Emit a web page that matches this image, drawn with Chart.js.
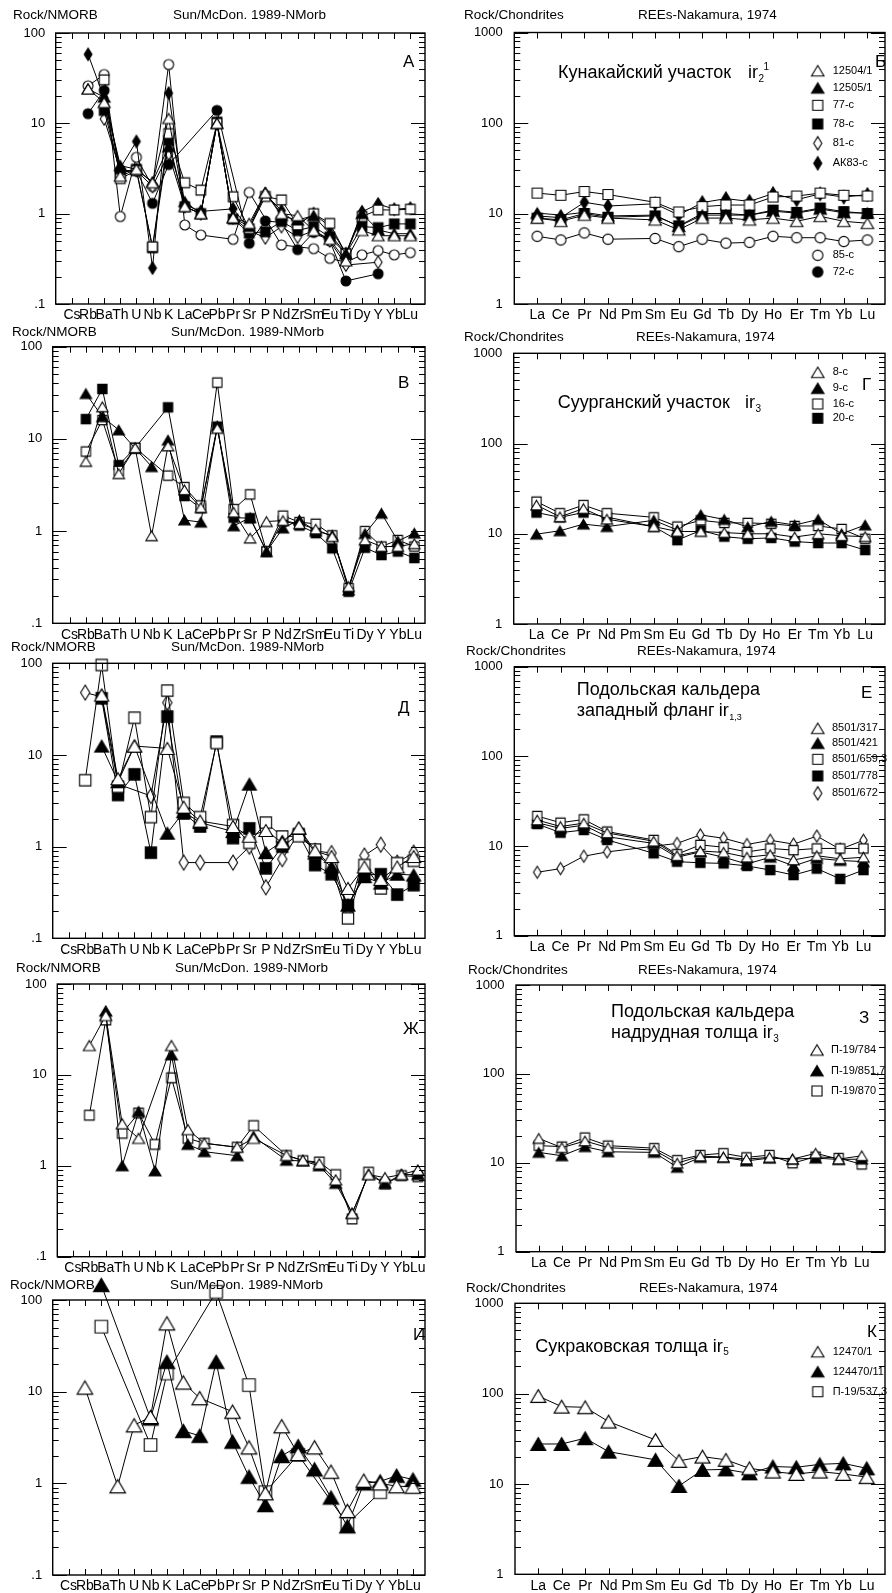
<!DOCTYPE html>
<html>
<head>
<meta charset="utf-8">
<title>Spider diagrams</title>
<script src="https://cdn.jsdelivr.net/npm/chart.js@4.4.0/dist/chart.umd.min.js"></script>
<style>
html, body { margin: 0; padding: 0; background: #fff; width: 892px; height: 1593px; overflow: hidden; }
#sheet { position: relative; width: 892px; height: 1593px; overflow: hidden; }
#sheet canvas { position: absolute; }
</style>
</head>
<body>
<div id="sheet"></div>
<script>
const N = null;

// element order on the x axes
const nmorbElements = ['Cs', 'Rb', 'Ba', 'Th', 'U', 'Nb', 'K', 'La', 'Ce', 'Pb', 'Pr', 'Sr', 'P', 'Nd', 'Zr', 'Sm', 'Eu', 'Ti', 'Dy', 'Y', 'Yb', 'Lu'];
const reeElements = ['La', 'Ce', 'Pr', 'Nd', 'Pm', 'Sm', 'Eu', 'Gd', 'Tb', 'Dy', 'Ho', 'Er', 'Tm', 'Yb', 'Lu'];

// y tick labels
const nmorbTicks = [0.1, 1, 10, 100];
const nmorbTickLabels = ['.1', '1', '10', '100'];
const reeTicks = [1, 10, 100, 1000];
const reeTickLabels = ['1', '10', '100', '1000'];

// samples per row (legend order) and their marker kinds
const row1Samples = ['12504/1', '12505/1', '77-с', '78-с', '81-с', 'АК83-с', '85-с', '72-с'];
const row1Kinds = ['triO', 'triF', 'sqO', 'sqF', 'diaO', 'diaF', 'cirO', 'cirF'];
const row2Samples = ['8-с', '9-с', '16-с', '20-с'];
const row2Kinds = ['triO', 'triF', 'sqO', 'sqF'];
const row3Samples = ['8501/317', '8501/421', '8501/659,3', '8501/778', '8501/672'];
const row3Kinds = ['triO', 'triF', 'sqO', 'sqF', 'diaO'];
const row4Samples = ['П-19/784', 'П-19/851,7', 'П-19/870'];
const row4Kinds = ['triO', 'triF', 'sqO'];
const row5Samples = ['12470/1', '124470/11', 'П-19/537,3'];
const row5Kinds = ['triO', 'triF', 'sqO'];

// А - Rock/NMORB
const a_12504_1 = [N, 24, 17, 2.6, 3.1, 2.2, 11.3, 1.2, 1.0, 10, 0.9, 0.78, 1.7, 1.0, 0.95, 0.65, 0.52, 0.3, 0.65, 0.57, 0.57, 0.57];
const a_12505_1 = [N, 24, 19.5, 3.4, 3.1, 2.25, 5.5, 1.36, 1.0, 10, 0.9, 0.72, 1.71, 0.95, 0.85, 0.95, 0.6, 0.36, 1.0, 0.66, 0.6, 0.6];
const a_77c = [N, N, 30.3, 2.45, 3.0, 0.43, 7.7, 2.2, 1.82, 10, 1.54, 0.68, 1.55, 1.42, 0.75, 1.0, 0.78, 0.36, 0.93, 1.1, 1.1, 1.12];
const a_78c = [N, N, 13.9, 2.8, 3.1, 0.42, 6.5, 1.19, 1.0, 10.3, 0.87, 0.61, 0.63, 0.82, 0.65, 0.72, 0.55, 0.36, 0.72, 0.7, 0.77, 0.77];
const a_81c = [N, N, 11.2, 3.0, 3.0, 2.0, 4.6, 1.2, 1.0, 10, 0.9, 0.65, 0.54, 0.72, 0.55, 0.65, 0.5, 0.27, N, 0.29, N, N];
const a_AK83c = [N, 58, 19, 3.2, 6.3, 0.25, 21.6, 1.25, 1.06, N, 1.13, 0.68, 1.65, 1.08, 0.75, 1.0, 0.72, 0.36, 1.05, 1.28, 1.12, 1.15];
const a_85c = [N, 26, 34.7, 0.93, 4.2, 2.0, 44.8, 0.75, 0.58, N, 0.52, 1.72, N, 0.45, N, 0.41, 0.32, 0.29, 0.35, 0.39, 0.35, 0.37];
const a_72c = [N, 12.8, 23.1, 2.9, 3.0, 1.3, 3.5, N, N, 13.9, N, 0.47, 0.83, 0.8, 0.4, 0.62, 0.5, 0.18, N, 0.216, N, N];

// Б - Rock/Chondrites
const b_12504_1 = [8.9, 8.2, 9.6, 8.9, N, 8.5, 6.6, 8.9, 8.9, 8.5, 8.9, 8.2, 9.3, 8.2, 7.8];
const b_12505_1 = [10.1, 9.6, 10.3, 9.4, N, 9.6, 7.2, 9.6, 9.6, 9.6, 10.6, 10.1, 11.2, 10.2, 10.1];
const b_77c = [16.8, 15.9, 17.5, 16.2, N, 13.3, 10.4, 11.9, 12.4, 12.4, 15.2, 15.6, 16.8, 15.9, 15.6];
const b_78c = [8.9, 8.5, 10.0, 9.1, N, 9.4, 7.3, 10, 10, 9.6, 10.9, 10.3, 11.5, 10.5, 10];
const b_81c = [N, N, N, N, N, N, N, N, N, N, N, N, N, N, N];
const b_AK83c = [9.4, 9.0, 13.3, 12.1, N, 12.8, 9.6, 13.2, 14.6, 13.6, 16.6, 14.2, 16.5, 15.2, 16.2];
const b_85c = [5.6, 5.1, 6.1, 5.2, N, 5.3, 4.3, 5.2, 4.7, 4.8, 5.6, 5.4, 5.4, 4.9, 5.1];
const b_72c = [N, N, N, N, N, N, N, N, N, N, N, N, N, N, N];

// В - Rock/NMORB
const v_8c = [N, 5.7, 22.3, 4.2, 8, 0.89, 8.4, 2.8, 1.8, 13, 1.6, 0.84, 1.27, 1.3, 1.2, 1.05, 0.87, 0.25, 0.8, 0.68, 0.68, 0.73];
const v_9c = [N, 31, 17.4, 12.5, 7.9, 5.0, 9.7, 1.32, 1.25, 13.8, 1.14, 1.4, 0.6, 1.08, 1.32, 1.0, 0.9, 0.23, 0.94, 1.56, 0.78, 0.95];
const v_16c = [N, 7.3, 16, 4.5, 8, N, 4.0, 3.0, 1.9, 40.8, 1.73, 2.5, 0.6, 1.47, 1.25, 1.2, 0.9, 0.24, 1.0, 0.68, 0.8, 0.68];
const v_20c = [N, 16.4, 34.8, 5.2, 8.0, N, 22, 2.4, 1.77, 13.6, 1.4, 1.38, 0.6, 1.3, 1.15, 0.95, 0.65, 0.22, 0.66, 0.55, 0.6, 0.51];

// Г - Rock/Chondrites
const g_8c = [20.8, 15.4, 19, 14.5, N, 12, 10.6, 10.6, 10.3, 10, 10, 9.2, 10, 9.5, 9.3];
const g_9c = [9.9, 10.8, 12.8, 12, N, 14.1, 11, 16.2, 14.4, 11.9, 13.7, 12.5, 14.4, 10, 12.5];
const g_16c = [22.7, 16.9, 20.8, 16.9, N, 15.2, 12, 14.1, 13.2, 13.2, 12.9, 12.2, 12.2, 11.3, 8.8];
const g_20c = [17.2, 15.2, 17.2, 15.3, N, 12, 8.5, 10.9, 9.3, 8.8, 9.0, 8.2, 7.9, 7.9, 6.6];

// Д - Rock/NMORB
const d_317 = [N, N, 45, 5.5, 12.5, N, 11.8, 2.7, 1.9, N, 1.66, 1.3, 1.5, 1.1, 1.6, 0.9, 0.78, 0.35, 0.6, 0.44, 0.6, 0.78];
const d_421 = [N, N, 12.5, 5.1, 12.5, N, 1.4, 2.4, 1.83, N, 1.46, 4.8, 0.86, 1.14, 1.58, 0.85, 0.6, 0.23, 0.47, 0.4, 0.5, 0.49];
const d_659 = [N, 5.3, 95.9, 4.5, 25.5, 2.1, 50.4, 3.0, 2.1, 13.5, 1.72, 1.1, 1.83, 1.29, 1.3, 0.93, 0.6, 0.165, 0.63, 0.35, 0.66, 0.7];
const d_778 = [N, N, 41.5, 3.66, 6.15, 0.86, 26.2, 2.3, 1.66, 14, 1.24, 1.58, 0.58, 1.0, 1.37, 0.63, 0.5, 0.23, 0.49, 0.5, 0.3, 0.38];
const d_672 = [N, 47.9, 43, 4.8, N, 3.57, 37.2, 0.67, 0.67, N, 0.67, 1.0, 0.36, 0.73, 1.4, 0.9, 0.85, 0.19, 0.8, 1.05, 0.67, 0.86];

// Е - Rock/Chondrites
const e_317 = [19.5, 16.5, 18, 14, N, 11.3, 7.8, 8.8, 8.5, 7.5, 8.0, 7.0, 7.8, 7.2, 7.5];
const e_421 = [18.2, 15.7, 17.1, 12.7, N, 10.7, 7.5, 8.6, 7.5, 6.3, 7.5, 6.0, 7.3, 6.9, 6.7];
const e_659 = [21.6, 18.2, 19.8, 14.5, N, 11.7, 8.1, 10.3, 9.7, 8.6, 9.4, 9.0, 9.4, 9.4, 9.4];
const e_778 = [17.6, 14.1, 15.1, 11.7, N, 8.3, 6.7, 6.5, 6.4, 6.0, 5.4, 4.75, 5.6, 4.3, 5.4];
const e_672 = [5.1, 5.6, 7.7, 8.6, N, N, 10.7, 13.3, 12.2, 10.4, 11.6, 10.5, 12.9, 9.2, 11.6];

// Ж - Rock/NMORB
const zh_784 = [N, 21, 44.9, 2.9, 2.0, N, 21, 2.5, 1.77, N, 1.6, 2.0, N, 1.3, 1.15, 1.05, 0.7, 0.3, 0.8, 0.74, 0.8, 0.9];
const zh_851 = [N, N, 50.5, 1.0, 3.95, 0.88, 16.6, 1.72, 1.43, N, 1.29, 2.1, N, 1.15, 1.13, 1.0, 0.64, 0.3, 0.8, 0.64, 0.8, 0.8];
const zh_870 = [N, 3.6, 40.2, 2.28, 3.8, 1.72, 9.3, 2.0, 1.77, N, 1.6, 2.77, N, 1.3, 1.14, 1.1, 0.8, 0.26, 0.85, 0.63, 0.78, 0.76];

// З - Rock/Chondrites
const z_784 = [18.8, 14.8, 17.6, 14.8, N, 13.9, 9.9, 11.9, 11.6, 11, 11.5, 11, 12.8, 11, 12];
const z_851 = [13.1, 12.0, 15.2, 13.3, N, 13.1, 8.9, 11.5, 11.5, 10.5, 11.3, 11.0, 11.3, 10.9, 11];
const z_870 = [15.6, 15.2, 19.2, 15.6, N, 14.6, 10.7, 12.2, 12.8, 11.5, 12.2, 9.9, 11.7, 11.3, 9.6];

// И - Rock/NMORB
const i_12470_1 = [N, 11.1, N, 0.93, 4.3, 5.3, 55.6, 12.6, 8.5, N, 6.05, 2.47, 0.78, 4.2, 2.09, 2.47, 1.34, 0.5, 1.07, 1.0, 0.93, 0.92];
const i_124470_11 = [N, N, 146, N, N, 5.1, 21.2, 3.73, 3.3, 21.2, 2.85, 1.18, 0.58, 1.99, 2.55, 1.42, 0.7, 0.34, 1.0, 1.05, 1.21, 1.1];
const i_P19_537 = [N, N, 51.2, N, N, 2.62, 15.8, N, N, 123, N, 11.8, 0.8, N, 2.05, N, N, 0.36, N, 0.8, N, N];

// К - Rock/Chondrites
const k_12470_1 = [94, 71.8, 70.6, 49, N, 30.7, 18, 20.1, 18.5, 14.9, 13.7, 12.9, 13.7, 12.9, 11.9];
const k_124470_11 = [27.7, 27.7, 32.1, 22.8, N, 18.5, 9.5, 14.3, 14.5, 13.1, 15.6, 15.3, 16.5, 16.9, 14.9];
const k_P19_537 = [N, N, N, N, N, N, N, N, N, N, N, N, N, N, N];

const FONT = "'Liberation Sans', Arial, Helvetica, sans-serif";
Chart.defaults.font.family = FONT;
Chart.defaults.color = '#000';

const sheet = document.getElementById('sheet');

function makeMarker(kind, size) {
    const c = document.createElement('canvas');
    const w = Math.ceil(size) + 4;
    const h = Math.ceil(size * 1.2) + 4;
    c.width = w;
    c.height = h;
    const g = c.getContext('2d');
    const x = w / 2, y = h / 2;
    g.lineWidth = 1.1;
    g.strokeStyle = '#000';
    g.fillStyle = kind.endsWith('F') ? '#000' : '#fff';
    g.beginPath();
    if (kind.startsWith('tri')) {
        const hw = size * 0.52, hh = size * 0.44;
        g.moveTo(x, y - hh);
        g.lineTo(x + hw, y + hh);
        g.lineTo(x - hw, y + hh);
        g.closePath();
    } else if (kind.startsWith('sq')) {
        const a = size * 0.42;
        g.rect(x - a, y - a, 2 * a, 2 * a);
    } else if (kind.startsWith('dia')) {
        const a = size * 0.34, b = size * 0.55;
        g.moveTo(x, y - b);
        g.lineTo(x + a, y);
        g.lineTo(x, y + b);
        g.lineTo(x - a, y);
        g.closePath();
    } else {
        g.arc(x, y, size * 0.43, 0, Math.PI * 2);
    }
    g.fill();
    g.stroke();
    return c;
}

function headerTexts(left, y, ree) {
    return ree
        ? [{ t: 'Rock/Chondrites', x: left[0], y: y, size: 13.5 }, { t: 'REEs-Nakamura, 1974', x: left[1], y: y, size: 13.5 }]
        : [{ t: 'Rock/NMORB', x: left[0], y: y, size: 13.5 }, { t: 'Sun/McDon. 1989-NMorb', x: left[1], y: y, size: 13.5 }];
}

// text runs without x follow the previous run (end, or start when after: 'start')
const panels = [
    {   // А
        ree: false, box: { l: 55.7, t: 33, r: 442, b: 304 }, first: 72.7, last: 426.7, marker: 11.5,
        kinds: row1Kinds, series: [a_12504_1, a_12505_1, a_77c, a_78c, a_81c, a_AK83c, a_85c, a_72c],
        texts: headerTexts([13, 173], 15, false).concat([{ t: 'А', x: 403, y: 62, size: 17 }])
    },
    {   // Б
        ree: true, box: { l: 514.3, t: 32.5, r: 893, b: 304 }, first: 537.7, last: 875, marker: 12,
        kinds: row1Kinds, series: [b_12504_1, b_12505_1, b_77c, b_78c, b_81c, b_AK83c, b_85c, b_72c],
        texts: headerTexts([464, 638], 15, true).concat([
            { t: 'Б', x: 875, y: 62, size: 17 },
            { t: 'Кунакайский участок', x: 558, y: 73, size: 18 },
            { t: 'ir', x: 748, y: 73, size: 18 },
            { t: '2', dx: 0.5, y: 79, size: 10 },
            { t: '1', after: 'start', dx: 5, y: 67, size: 10 }
        ]),
        legend: { mx: 817.7, tx: 832.7, names: row1Samples, ys: [70.7, 88, 105.3, 124, 143.3, 163.3, 255.3, 272] }
    },
    {   // В
        ree: false, box: { l: 52.7, t: 346.7, r: 436, b: 623.3 }, first: 70, last: 425, marker: 11,
        kinds: row2Kinds, series: [v_8c, v_9c, v_16c, v_20c],
        texts: headerTexts([12, 171], 332, false).concat([{ t: 'В', x: 398, y: 383, size: 17 }])
    },
    {   // Г
        ree: true, box: { l: 513.7, t: 353.3, r: 893, b: 624 }, first: 537, last: 872.7, marker: 11,
        kinds: row2Kinds, series: [g_8c, g_9c, g_16c, g_20c],
        texts: headerTexts([464, 636], 337, true).concat([
            { t: 'Г', x: 862, y: 385, size: 17 },
            { t: 'Суурганский участок', x: 557.7, y: 403.3, size: 18 },
            { t: 'ir', x: 745, y: 403.3, size: 18 },
            { t: '3', dx: 0.5, y: 409.5, size: 10 }
        ]),
        legend: { mx: 817.7, tx: 832.7, names: row2Samples, ys: [372.3, 388.3, 404, 418.3] }
    },
    {   // Д
        ree: false, box: { l: 52.7, t: 663.3, r: 436.7, b: 938.3 }, first: 69.3, last: 425, marker: 13.5,
        kinds: row3Kinds, series: [d_317, d_421, d_659, d_778, d_672],
        texts: headerTexts([11, 171], 647, false).concat([{ t: 'Д', x: 398, y: 708, size: 17 }])
    },
    {   // Е
        ree: true, box: { l: 514.3, t: 666.7, r: 893, b: 935.7 }, first: 537.7, last: 871, marker: 11,
        kinds: row3Kinds, series: [e_317, e_421, e_659, e_778, e_672],
        texts: headerTexts([466, 637], 651, true).concat([
            { t: 'Е', x: 861, y: 693, size: 17 },
            { t: 'Подольская кальдера', x: 576.7, y: 690, size: 18 },
            { t: 'западный фланг', x: 576.7, y: 711, size: 18 },
            { t: 'ir', x: 718.7, y: 711, size: 18 },
            { t: '1,3', dx: 0.5, y: 718, size: 9 }
        ]),
        legend: { mx: 817.7, tx: 832, names: row3Samples, ys: [728.3, 743.3, 759.3, 776, 793.3] }
    },
    {   // Ж
        ree: false, box: { l: 57.3, t: 984, r: 434, b: 1256.7 }, first: 73.3, last: 426.7, marker: 11.5,
        kinds: row4Kinds, series: [zh_784, zh_851, zh_870],
        texts: headerTexts([16, 175], 968, false).concat([{ t: 'Ж', x: 403, y: 1029, size: 17 }])
    },
    {   // З
        ree: true, box: { l: 516, t: 985, r: 893, b: 1251.7 }, first: 539.3, last: 869.3, marker: 11,
        kinds: row4Kinds, series: [z_784, z_851, z_870],
        texts: headerTexts([468, 638], 970, true).concat([
            { t: 'З', x: 859, y: 1018, size: 17 },
            { t: 'Подольская кальдера', x: 611, y: 1012.3, size: 18 },
            { t: 'надрудная толща', x: 611, y: 1033.3, size: 18 },
            { t: 'ir', dx: 5, y: 1033.3, size: 18 },
            { t: '3', dx: 0.5, y: 1039, size: 10 }
        ]),
        legend: { mx: 817, tx: 831, names: row4Samples, ys: [1050, 1070.7, 1091] }
    },
    {   // И
        ree: false, box: { l: 52.7, t: 1300, r: 436.7, b: 1575 }, first: 69, last: 424.3, marker: 15,
        kinds: row5Kinds, series: [i_12470_1, i_124470_11, i_P19_537],
        texts: headerTexts([10, 170], 1285, false).concat([{ t: 'И', x: 413, y: 1335, size: 17 }])
    },
    {   // К
        ree: true, box: { l: 515, t: 1303.3, r: 893, b: 1574.3 }, first: 538.7, last: 874.3, marker: 14.5,
        kinds: row5Kinds, series: [k_12470_1, k_124470_11, k_P19_537],
        texts: headerTexts([466, 639], 1288, true).concat([
            { t: 'К', x: 867, y: 1332, size: 17 },
            { t: 'Сукраковская толща', x: 535.3, y: 1346.7, size: 18 },
            { t: 'ir', dx: 5, y: 1346.7, size: 18 },
            { t: '5', dx: 0.5, y: 1352.5, size: 10 }
        ]),
        legend: { mx: 817.7, tx: 832.7, names: row5Samples, ys: [1351.7, 1371.7, 1391.7] }
    }
];

function drawDecor(chart, p, cx, cy) {
    const { ctx, chartArea: a } = chart;
    const xs = chart.scales.x, ys = chart.scales.y;
    ctx.save();
    ctx.strokeStyle = '#000';
    ctx.lineWidth = 1.4;
    ctx.strokeRect(a.left, a.top, a.right - a.left, a.bottom - a.top);

    ctx.lineWidth = 1;
    ctx.beginPath();
    p.elements.forEach((_, i) => {
        const px = Math.round(xs.getPixelForValue(i)) + 0.5;
        ctx.moveTo(px, a.top); ctx.lineTo(px, a.top + 6);
        ctx.moveTo(px, a.bottom); ctx.lineTo(px, a.bottom - 6);
    });
    for (let d = p.yMin; d < p.yMax; d *= 10) {
        for (let m = 2; m < 10; m++) {
            const py = Math.round(ys.getPixelForValue(d * m)) + 0.5;
            ctx.moveTo(a.left, py); ctx.lineTo(a.left + 6, py);
            ctx.moveTo(a.right, py); ctx.lineTo(a.right - 6, py);
        }
    }
    p.ticks.forEach(v => {
        const py = Math.round(ys.getPixelForValue(v)) + 0.5;
        ctx.moveTo(a.left, py); ctx.lineTo(a.left + 14, py);
        ctx.moveTo(a.right, py); ctx.lineTo(a.right - 14, py);
    });
    ctx.stroke();

    ctx.fillStyle = '#000';
    ctx.textBaseline = 'middle';
    ctx.textAlign = 'left';
    let lastStart = 0, lastEnd = 0;
    p.texts.forEach(r => {
        ctx.font = r.size + 'px ' + FONT;
        const x = r.x != null ? r.x - cx : (r.after === 'start' ? lastStart : lastEnd) + (r.dx || 0);
        ctx.fillText(r.t, x, r.y - cy);
        lastStart = x;
        lastEnd = x + ctx.measureText(r.t).width;
    });

    if (p.legend) {
        ctx.font = '11px ' + FONT;
        p.legend.names.forEach((name, i) => {
            const mk = makeMarker(p.kinds[i], 12);
            const y = p.legend.ys[i] - cy;
            ctx.drawImage(mk, p.legend.mx - cx - mk.width / 2, y - mk.height / 2);
            ctx.fillText(name, p.legend.tx - cx, y);
        });
    }
    ctx.restore();
}

function buildPanel(p) {
    p.elements = p.ree ? reeElements : nmorbElements;
    p.ticks = p.ree ? reeTicks : nmorbTicks;
    p.tickLabels = p.ree ? reeTickLabels : nmorbTickLabels;
    p.yMin = p.ticks[0];
    p.yMax = p.ticks[p.ticks.length - 1];

    const cx = p.ree ? 446 : 0;
    const cw = p.ree ? 460 : 446;
    const cy = Math.round(p.box.t - 40);
    const ch = Math.round(p.box.b - cy + 28);

    const canvas = document.createElement('canvas');
    canvas.width = cw;
    canvas.height = ch;
    canvas.style.left = cx + 'px';
    canvas.style.top = cy + 'px';
    canvas.style.width = cw + 'px';
    canvas.style.height = ch + 'px';
    sheet.appendChild(canvas);

    const n = p.elements.length;
    const step = (p.last - p.first) / (n - 1);
    const xMin = -(p.first - p.box.l) / step;
    const xMax = (n - 1) + (p.box.r - p.last) / step;

    const datasets = p.series.map((values, k) => ({
        label: p.kinds[k],
        data: values.map((v, i) => ({ x: i, y: v })),
        borderColor: '#000',
        borderWidth: 1,
        tension: 0,
        fill: false,
        spanGaps: true,
        clip: false,
        pointStyle: makeMarker(p.kinds[k], p.marker),
        pointRadius: 20,
        pointHoverRadius: 20
    }));

    new Chart(canvas, {
        type: 'line',
        data: { datasets: datasets },
        options: {
            responsive: false,
            maintainAspectRatio: false,
            devicePixelRatio: 1,
            animation: false,
            events: [],
            layout: { padding: { left: 0, bottom: 0, top: p.box.t - cy, right: cx + cw - p.box.r } },
            plugins: { legend: { display: false }, tooltip: { enabled: false } },
            scales: {
                x: {
                    type: 'linear',
                    min: xMin,
                    max: xMax,
                    afterBuildTicks: s => { s.ticks = p.elements.map((_, i) => ({ value: i })); },
                    afterFit: s => { s.height = cy + ch - p.box.b; },
                    grid: { display: false, drawTicks: false },
                    border: { display: false },
                    ticks: {
                        autoSkip: false, maxRotation: 0, minRotation: 0, padding: 3,
                        font: { size: 14 }, color: '#000',
                        callback: (v, i) => p.elements[i]
                    }
                },
                y: {
                    type: 'logarithmic',
                    min: p.yMin,
                    max: p.yMax,
                    afterBuildTicks: s => { s.ticks = p.ticks.map(v => ({ value: v })); },
                    afterFit: s => { s.width = p.box.l - cx; },
                    grid: { display: false, drawTicks: false },
                    border: { display: false },
                    ticks: {
                        autoSkip: false, padding: p.ree ? 11.5 : 10.5,
                        font: { size: 13 }, color: '#000',
                        callback: (v, i) => p.tickLabels[i]
                    }
                }
            }
        },
        plugins: [{
            id: 'sheetDecor',
            afterDraw(chart) { drawDecor(chart, p, cx, cy); }
        }]
    });
}

panels.forEach(buildPanel);
</script>
</body>
</html>
